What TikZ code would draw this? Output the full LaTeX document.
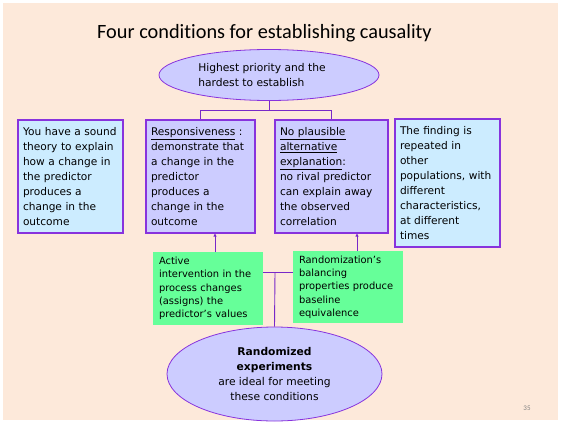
\documentclass[tikz,border=0pt]{standalone}
\usepackage{fontspec}
\setmainfont{DejaVu Sans}
\newfontfamily\titlefont[Ligatures=NoCommon]{Carlito}
\usetikzlibrary{shapes.geometric,arrows.meta}
\definecolor{peach}{RGB}{253,233,218}
\definecolor{lav}{RGB}{204,204,255}
\definecolor{ltblue}{RGB}{204,236,255}
\definecolor{grn}{RGB}{102,255,153}
\definecolor{edge}{RGB}{136,51,221}
\definecolor{wire}{RGB}{120,40,200}
\tikzset{
  x=1pt, y=-1pt,
  box/.style={draw=edge, line width=1.1pt, inner xsep=5pt, inner ysep=0pt, align=left,
    font=\fontsize{10.6}{15}\selectfont, anchor=center},
  gbox/.style={fill=grn, inner xsep=6pt, inner ysep=0pt, align=left,
    font=\fontsize{9.9}{13.3}\selectfont, anchor=center},
  oval/.style={ellipse, draw=edge, fill=lav, line width=0.8pt, inner sep=0pt},
  wireline/.style={draw=wire, line width=0.9pt},
  arr/.style={wireline, -{Triangle[length=3pt,width=3pt]}},
}
\begin{document}
\begin{tikzpicture}
\useasboundingbox (0,0) rectangle (561,423);
\fill[white] (0,0) rectangle (561,423);
\fill[peach] (3,3) rectangle (558,420);
\node[font=\titlefont\fontsize{20.3}{23}\selectfont, anchor=base] (title) at (264.5,38.5) {Four conditions for establishing causality};
\node[oval, minimum width=220pt, minimum height=51pt] (top) at (269,75) {};
\node[align=left, font=\fontsize{10.7}{15}\selectfont, inner sep=0pt] (toptext) at (262,75.5) {Highest priority and the\\hardest to establish};
\node[box, fill=ltblue, minimum width=105pt, minimum height=113pt, text width=95pt] (b1) at (70.5,176.5)
 {You have a sound\\theory to explain\\how a change in\\the predictor\\produces a\\change in the\\outcome};
\node[box, fill=lav, minimum width=109pt, minimum height=113pt, text width=99pt] (b2) at (200.5,176.5)
 {\underline{Responsiveness} :\\demonstrate that\\a change in the\\predictor\\produces a\\change in the\\outcome};
\node[box, fill=lav, minimum width=113pt, minimum height=113pt, text width=103pt] (b3) at (331.5,176.5)
 {\underline{No plausible}\\\underline{alternative}\\\underline{explanation}:\\no rival predictor\\can explain away\\the observed\\correlation};
\node[box, fill=ltblue, minimum width=105pt, minimum height=128pt, text width=95pt] (b4) at (447.5,183)
 {The finding is\\repeated in\\other\\populations, with\\different\\characteristics,\\at different\\times};
\node[gbox, minimum width=110pt, minimum height=73pt, text width=98pt] (g1) at (208,288.5)
 {Active\\intervention in the\\process changes\\(assigns) the\\predictor’s values};
\node[gbox, minimum width=110pt, minimum height=72pt, text width=98pt] (g2) at (348,287)
 {Randomization’s\\balancing\\properties produce\\baseline\\equivalence};
\node[oval, minimum width=215pt, minimum height=94pt, align=center, font=\fontsize{10.7}{15}\selectfont] (bot) at (274.5,374)
 {\textbf{Randomized}\\\textbf{experiments}\\are ideal for meeting\\these conditions};
\node[font=\titlefont\fontsize{7}{8}\selectfont, text=gray] (pg) at (527,408) {35};
% connectors
\coordinate (split) at (269,110);
\draw[wireline] (top.south) -- (split);
\draw[wireline] (split) -| (b2.north);
\draw[wireline] (split) -| (b3.north);
\coordinate (a1) at (215,252);
\coordinate (a2) at (357,251);
\draw[arr] (a1) -- (a1 |- b2.south);
\draw[arr] (a2) -- (a2 |- b3.south);
\coordinate (join) at (275,272);
\draw[wireline] (g1.east |- join) -- (g2.west |- join);
\draw[wireline] (join) -- (bot.north);
\end{tikzpicture}
\end{document}
